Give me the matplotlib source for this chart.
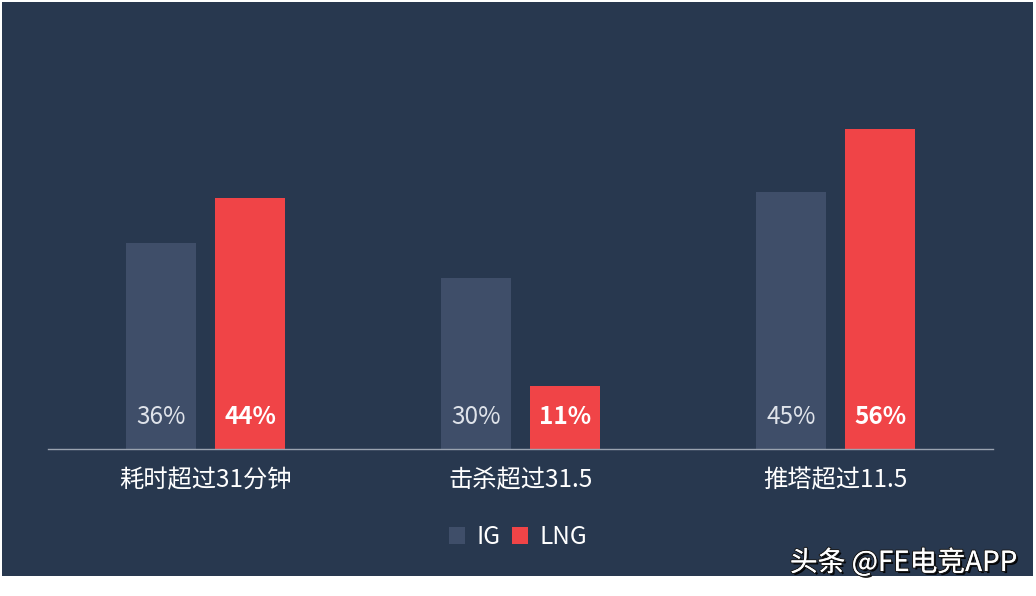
import numpy as np
import matplotlib
matplotlib.use("Agg")
import matplotlib.pyplot as plt
import matplotlib.patheffects as pe
from matplotlib.patches import Rectangle

plt.rcParams['font.family'] = ['Noto Sans CJK SC', 'DejaVu Sans']

categories = ["耗时超过31分钟", "击杀超过31.5", "推塔超过11.5"]
ig_values = [36, 30, 45]
lng_values = [44, 11, 56]
series_names = ["IG", "LNG"]

BG = "#28384f"
IG_COLOR = "#3f4e69"
LNG_COLOR = "#f04447"

fig = plt.figure(figsize=(10.36, 5.96), dpi=100)
fig.patch.set_facecolor("white")

# dark panel behind everything
fig.patches.append(Rectangle((2 / 1036, 20 / 596), 1031 / 1036, 574 / 596,
                             transform=fig.transFigure, facecolor=BG,
                             edgecolor="none", zorder=-5))

# axes: x 48..993 px, baseline y=449 px
ax = fig.add_axes([48 / 1036, (596 - 449) / 596, 945 / 1036, 400 / 596])
ax.set_facecolor("none")
x = np.arange(len(categories))
w = 0.222
off = 0.142
ig_bars = ax.bar(x - off, ig_values, w, color=IG_COLOR, label=series_names[0])
lng_bars = ax.bar(x + off, lng_values, w, color=LNG_COLOR, label=series_names[1])
ax.set_xlim(-0.5, 2.5)
ax.set_ylim(0, 70)

for b, v in zip(ig_bars, ig_values):
    ax.text(b.get_x() + b.get_width() / 2, 5.6, f"{v}%", ha="center", va="center",
            color="#dfe3ea", fontsize=17.5)
for b, v in zip(lng_bars, lng_values):
    ax.text(b.get_x() + b.get_width() / 2, 5.6, f"{v}%", ha="center", va="center",
            color="white", fontsize=17.5, fontweight="bold")

for s in ["top", "right", "left"]:
    ax.spines[s].set_visible(False)
ax.spines["bottom"].set_color("#9aa3b0")
ax.spines["bottom"].set_linewidth(1)
ax.set_yticks([])
ax.set_xticks(x)
ax.set_xticklabels(categories, color="white", fontsize=17.5)
ax.tick_params(axis="x", length=0, pad=13)

leg = fig.legend(handles=[ig_bars, lng_bars], labels=series_names, loc="center",
                 bbox_to_anchor=(518 / 1036, (596 - 537) / 596), ncol=2,
                 frameon=False, fontsize=17.5, handlelength=0.65, handleheight=0.65,
                 handletextpad=0.45, columnspacing=0.5)
for t in leg.get_texts():
    t.set_color("white")

fig.text(1017 / 1036, (596 - 563) / 596, "头条 @FE电竞APP", ha="right", va="center",
         color="white", fontsize=20,
         path_effects=[pe.withSimplePatchShadow(offset=(1.5, -1.5), shadow_rgbFace="black", alpha=0.9),
                       pe.withStroke(linewidth=1.5, foreground="#1a1a1a"), pe.Normal()])

fig.savefig("out.png", dpi=100, facecolor=fig.get_facecolor())
